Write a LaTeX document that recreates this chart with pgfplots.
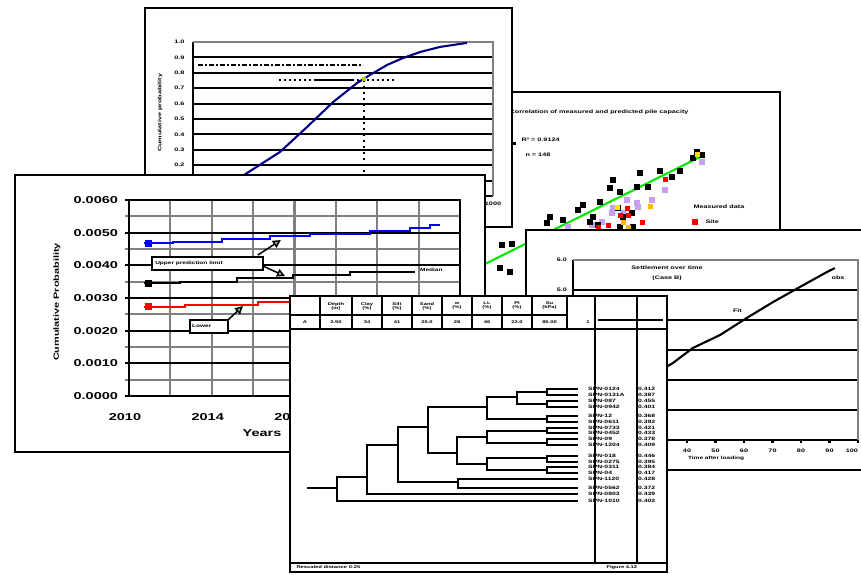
\documentclass[border=0pt]{standalone}
\usepackage{fontspec}
\setmainfont{Liberation Sans}
\newfontfamily\pix[FakeStretch=1.45]{Liberation Sans}
\usepackage{pgfplots}
\pgfplotsset{compat=1.18}
\usetikzlibrary{arrows.meta}
\definecolor{navy}{RGB}{0,0,128}
\definecolor{gg}{RGB}{128,128,128}
\definecolor{lav}{RGB}{200,160,240}
\definecolor{yel}{RGB}{255,230,0}
\definecolor{org}{RGB}{255,185,0}
\definecolor{grn}{RGB}{0,230,0}
\definecolor{blu}{RGB}{0,0,255}
\definecolor{rd}{RGB}{255,0,0}
\definecolor{oliv}{RGB}{170,210,0}
\newcommand{\pagebox}[4]{\filldraw[fill=white,draw=black,line width=2.1pt] (#1pt,-#2pt) rectangle (#3pt,-#4pt);}
\newcommand{\fs}[1]{\pix\bfseries\fontsize{#1}{#1}\selectfont}
\tikzset{lw/.style={line width=2.1pt}}
\newcommand{\leaf}[3]{\node[anchor=west,font=\fs{4.7},inner sep=0pt] at (axis cs:588,#1) {#2};\node[anchor=west,font=\fs{4.7},inner sep=0pt] at (axis cs:638,#1) {#3};}
\begin{document}
\begin{tikzpicture}
\path[use as bounding box] (0,0) rectangle (861pt,-574pt);
\fill[white] (0,0) rectangle (861pt,-574pt);
\begin{scope}
\clip (0,0) rectangle (861pt,-574pt);

% ---------------- scatter page (back)
\pagebox{420}{92}{780}{330}
\begin{axis}[at={(440pt,-300pt)},anchor=south west,scale only axis,width=340pt,height=208pt,
  xmin=0,xmax=340,ymin=0,ymax=208,hide axis,clip=false]
\addplot[grn,lw] coordinates {(20,23.6)(262,144)};
\addplot[only marks,mark=square*,mark size=2.4pt,lav] coordinates {(187,100)(197,97)(198,93)(212,100)(173,92)(172,87)(183,87)(225,110)(262,138)(152,75)(128,73)(162,78)};
\addplot[only marks,mark=square*,mark size=2.4pt,black] coordinates {(173,120)(170,112)(180,108)(200,127)(220,129)(240,129)(232,123)(208,113)(197,113)(138,90)(143,95)(160,98)(110,83)(107,77)(123,80)(153,83)(150,78)(158,75)(178,92)(183,83)(192,87)(193,73)(180,73)(257,148)(262,145)(253,142)(62,55)(72,56)(60,32)(70,28)};
\addplot[only marks,mark=square*,mark size=2pt,rd] coordinates {(225,121)(202,78)(168,75)(158,73)(180,85)(187,92)(188,85)};
\addplot[only marks,mark=square*,mark size=2.2pt,yel] coordinates {(257,146)(177,93)};
\addplot[only marks,mark=square*,mark size=2pt,org] coordinates {(210,94)(183,78)(188,73)};
\addplot[only marks,mark=square*,mark size=1.2pt,black] coordinates {(74,157)};
\node[anchor=east,font=\fs{5}] at (axis cs:252,188) {Correlation of measured and predicted pile capacity};
\node[anchor=west,font=\fs{5}] at (axis cs:78,160) {R² = 0.9124};
\node[anchor=west,font=\fs{5}] at (axis cs:82,145) {n = 148};
\node[anchor=west,font=\fs{5}] at (axis cs:250,93) {Measured data};
\addplot[only marks,mark=square*,mark size=2.5pt,rd] coordinates {(255,78)};
\node[anchor=west,font=\fs{5}] at (axis cs:262,78) {Site};
\end{axis}

% ---------------- top page
\pagebox{145}{8}{512}{227}
\begin{axis}[at={(193pt,-196pt)},anchor=south west,scale only axis,width=300pt,height=154pt,
 xmin=0,xmax=10,ymin=0,ymax=10,clip=false,
 axis line style={draw=none},
 xtick={0,...,10}, ytick={0,...,10},
 ymajorgrids, major grid style={black,lw},
 tick style={draw=none},
 xticklabels={0,100,200,300,400,500,600,700,800,900,1000},
 yticklabels={0.0,0.1,0.2,0.3,0.4,0.5,0.6,0.7,0.8,0.9,1.0},
 tick label style={font=\fs{5}},
 yticklabel style={xshift=-5pt},
 xticklabel style={yshift=-2pt}]
\draw[black,lw] (axis cs:0,10)--(axis cs:0,0)--(axis cs:10,0);
\draw[gg,lw] (axis cs:0,10)--(axis cs:10,10)--(axis cs:10,0);
\addplot[black,lw,dash pattern=on 5pt off 2pt on 2pt off 2pt] coordinates {(0.17,8.51)(5.67,8.51)};
\addplot[black,lw,dash pattern=on 2pt off 3pt] coordinates {(2.87,7.53)(4.07,7.53)};
\addplot[black,lw] coordinates {(4.07,7.53)(5.3,7.53)};
\addplot[black,lw,dash pattern=on 2pt off 3pt] coordinates {(5.3,7.53)(6.73,7.53)};
\addplot[black,lw,dash pattern=on 2pt off 4pt] coordinates {(5.7,7.53)(5.7,0)};
\addplot[navy,lw] coordinates {(0.9,0.3)(1.8,1.49)(2.9,2.86)(3.8,4.48)(4.67,6.10)(5.47,7.34)(5.9,7.86)(6.47,8.51)(7.0,8.96)(7.57,9.35)(8.23,9.68)(9.13,9.94)};
\addplot[only marks,mark=square*,mark size=1.5pt,oliv] coordinates {(5.7,7.6)};
\node[font=\fs{5},xshift=-33pt,rotate=90] at (axis cs:0,5.4) {Cumulative probability};
\end{axis}

% ---------------- left page
\pagebox{15}{175}{485}{452}
\begin{axis}[at={(129pt,-396pt)},anchor=south west,scale only axis,width=331pt,height=196pt,
 xmin=2010,xmax=2026,ymin=0,ymax=0.006,clip=false,
 scaled y ticks=false, scaled x ticks=false,
 axis line style={black,lw},
 xtick={2010,2014,2018,2022,2026}, minor xtick={2010,2012,2014,2016,2018,2020,2022,2024,2026},
 ytick={0,0.001,0.002,0.003,0.004,0.005,0.006},
 minor ytick={0.0005,0.0015,0.0025,0.0035,0.0045,0.0055},
 xmajorgrids=false,xminorgrids=true,ymajorgrids=true,yminorgrids=true,
 major grid style={black,lw}, minor grid style={gg,lw},
 xtick pos=left, ytick pos=left,
 tick align=outside,
 major x tick style={draw=none}, minor x tick style={draw=none},
 major y tick style={black,lw}, minor y tick style={gg,lw},
 major tick length=4pt, minor tick length=4pt,
 xticklabels={2010,2014,2018,2022,2026},
 yticklabels={0.0000,0.0010,0.0020,0.0030,0.0040,0.0050,0.0060},
 tick label style={font=\fs{10}},
 xticklabel style={xshift=-4pt,yshift=-10pt},
 yticklabel style={xshift=-3.5pt}]
\addplot[const plot,blu,lw] coordinates {(2010.72,0.004683)(2012.13,0.004714)(2014.49,0.004806)(2016.81,0.004898)(2018.74,0.004959)(2021.64,0.005051)(2023.57,0.005143)(2024.54,0.005234)(2025.02,0.005234)};
\addplot[const plot,black,lw] coordinates {(2010.72,0.003459)(2012.46,0.003490)(2015.22,0.003612)(2017.92,0.003704)(2020.68,0.003796)(2023.82,0.003796)};
\addplot[const plot,rd,lw] coordinates {(2010.72,0.002724)(2012.71,0.002786)(2016.23,0.002877)(2018.26,0.002877)(2021,0.002939)(2024,0.002939)};
\addplot[only marks,mark=square*,mark size=3pt,blu] coordinates {(2010.94,0.004683)};
\addplot[only marks,mark=square*,mark size=3pt,black] coordinates {(2010.92,0.003459)};
\addplot[only marks,mark=square*,mark size=3pt,rd] coordinates {(2010.92,0.002755)};
\node[font=\fs{4.5},anchor=west] at (axis cs:2023.9,0.003857) {Median};
\node[draw=black,lw,fill=white,minimum width=111pt,minimum height=13pt,inner sep=0pt] at (axis cs:2013.79,0.004056) {};
\node[font=\fs{4.5},anchor=west,inner sep=0pt] at (axis cs:2011.26,0.004056) {Upper prediction limit};
\node[draw=black,lw,fill=white,minimum width=38pt,minimum height=13pt,inner sep=0pt] at (axis cs:2013.86,0.002127) {};
\node[font=\fs{4.5},anchor=west,inner sep=0pt] at (axis cs:2013.04,0.002158) {Lower};
\draw[line width=1.5pt,-{Triangle[length=8pt,width=8pt,fill=gg!60]}] (axis cs:2016.23,0.004316) -- (axis cs:2017.34,0.004775);
\draw[line width=1.5pt,-{Triangle[length=8pt,width=8pt,fill=gg!60]}] (axis cs:2016.47,0.003980) -- (axis cs:2017.54,0.003673);
\draw[line width=1.5pt,-{Triangle[length=8pt,width=8pt,fill=gg!60]}] (axis cs:2014.78,0.002326) -- (axis cs:2015.51,0.002755);
\node[font=\fs{10},yshift=-37pt] at (axis cs:2016.43,0) {Years};
\node[font=\fs{7.5},xshift=-72pt,rotate=90] at (axis cs:2010,0.002877) {Cumulative Probability};
\end{axis}

% ---------------- right page
\pagebox{526}{230}{880}{470}
\begin{axis}[at={(573pt,-440pt)},anchor=south west,scale only axis,width=285pt,height=180pt,
 xmin=0,xmax=10,ymin=0,ymax=6,clip=false,
 axis line style={draw=none},
 xtick={0,...,10}, ytick={0,...,6},
 ymajorgrids, major grid style={black,lw},
 tick align=outside, major tick length=2.5pt,
 major x tick style={black,lw}, major y tick style={draw=none},
 xtick pos=left, ytick pos=left,
 xticklabels={0,10,20,30,40,50,60,70,80,90,\llap{100}},
 yticklabels={0.0,1.0,2.0,3.0,4.0,5.0,6.0},
 tick label style={font=\fs{5}},
 xticklabel style={yshift=-3pt}]
\draw[black,lw] (axis cs:0,6)--(axis cs:0,0)--(axis cs:10,0);
\draw[gg,lw] (axis cs:0,6)--(axis cs:10,6)--(axis cs:10,0);
\addplot[black,lw] coordinates {(0,0.6)(3.51,2.57)(4.21,3.07)(5.16,3.5)(6.1,4.07)(7.02,4.6)(7.96,5.1)(8.91,5.6)(9.19,5.73)};
\node[font=\fs{5}] at (axis cs:3.3,5.73) {Settlement over time};
\node[font=\fs{5}] at (axis cs:3.3,5.4) {(Case B)};
\node[font=\fs{5}] at (axis cs:5.77,4.3) {Fit};
\node[font=\fs{5}] at (axis cs:9.3,5.4) {obs};
\node[font=\fs{4.5},yshift=-18pt] at (axis cs:5.02,0) {Time after loading};
\end{axis}

% ---------------- dendrogram page (front)
\pagebox{290}{296}{667}{572}
\begin{axis}[at={(290pt,-572pt)},anchor=south west,scale only axis,width=377pt,height=276pt,
 xmin=290,xmax=667,ymin=296,ymax=572,y dir=reverse,hide axis,clip=false]
\draw[lw] (axis cs:290,315)--(axis cs:567,315);
\draw[lw] (axis cs:290,329)--(axis cs:667,329);
\pgfplotsinvokeforeach{320,352,382,412,442,472,502,532,567}{\draw[lw] (axis cs:#1,296)--(axis cs:#1,329);}
\draw[lw] (axis cs:595,296)--(axis cs:595,563);
\draw[lw] (axis cs:637,296)--(axis cs:637,563);
\draw[lw] (axis cs:290,563)--(axis cs:667,563);
\draw[lw] (axis cs:598,320)--(axis cs:663,320);
% header text
\node[font=\fs{4},align=center,inner sep=0pt] at (axis cs:336,306) {Depth\\(m)};
\node[font=\fs{4},align=center,inner sep=0pt] at (axis cs:367,306) {Clay\\(\%)};
\node[font=\fs{4},align=center,inner sep=0pt] at (axis cs:397,306) {Silt\\(\%)};
\node[font=\fs{4},align=center,inner sep=0pt] at (axis cs:427,306) {Sand\\(\%)};
\node[font=\fs{4},align=center,inner sep=0pt] at (axis cs:457,306) {w\\(\%)};
\node[font=\fs{4},align=center,inner sep=0pt] at (axis cs:487,306) {LL\\(\%)};
\node[font=\fs{4},align=center,inner sep=0pt] at (axis cs:517,306) {PI\\(\%)};
\node[font=\fs{4},align=center,inner sep=0pt] at (axis cs:549.5,306) {Su\\(kPa)};
\node[font=\fs{4}] at (axis cs:305,322) {A};
\node[font=\fs{4}] at (axis cs:336,322) {2.50};
\node[font=\fs{4}] at (axis cs:367,322) {34};
\node[font=\fs{4}] at (axis cs:397,322) {41};
\node[font=\fs{4}] at (axis cs:427,322) {25.0};
\node[font=\fs{4}] at (axis cs:457,322) {28};
\node[font=\fs{4}] at (axis cs:487,322) {46};
\node[font=\fs{4}] at (axis cs:517,322) {22.0};
\node[font=\fs{4}] at (axis cs:549.5,322) {85.00};
\node[font=\fs{4}] at (axis cs:588,322) {1};
% dendrogram
\addplot[black,lw] coordinates {(306.7,488.3)(336.7,488.3)};
\addplot[black,lw] coordinates {(366.7,476.7)(336.7,476.7)(336.7,500.7)(578,500.7)};
\addplot[black,lw] coordinates {(397.7,445)(366.7,445)(366.7,494)(578,494)};
\addplot[black,lw] coordinates {(427.7,427.3)(397.7,427.3)(397.7,482.3)(457.7,482.3)};
\addplot[black,lw] coordinates {(578,479.3)(457.7,479.3)(457.7,488.3)(578,488.3)};
\addplot[black,lw] coordinates {(486.7,406.7)(427.7,406.7)(427.7,452.7)(456.7,452.7)};
\addplot[black,lw] coordinates {(516.7,397.3)(486.7,397.3)(486.7,419.3)(546.7,419.3)};
\addplot[black,lw] coordinates {(546.7,391.7)(516.7,391.7)(516.7,404)(546.7,404)};
\addplot[black,lw] coordinates {(578,389)(546.7,389)(546.7,395)(578,395)};
\addplot[black,lw] coordinates {(578,401)(546.7,401)(546.7,407.3)(578,407.3)};
\addplot[black,lw] coordinates {(578,416)(546.7,416)(546.7,421.7)(578,421.7)};
\addplot[black,lw] coordinates {(486.7,436.7)(456.7,436.7)(456.7,464)(486.7,464)};
\addplot[black,lw] coordinates {(546.7,430.7)(486.7,430.7)(486.7,442.7)(546.7,442.7)};
\addplot[black,lw] coordinates {(578,427.7)(546.7,427.7)(546.7,433.3)(578,433.3)};
\addplot[black,lw] coordinates {(578,439.3)(546.7,439.3)(546.7,445.3)(578,445.3)};
\addplot[black,lw] coordinates {(546.7,458.3)(486.7,458.3)(486.7,470)(546.7,470)};
\addplot[black,lw] coordinates {(578,455.7)(546.7,455.7)(546.7,461.7)(578,461.7)};
\addplot[black,lw] coordinates {(578,466.7)(546.7,466.7)(546.7,473.3)(578,473.3)};
% leaf labels
\leaf{389}{SPN-0124}{0.412}
\leaf{395}{SPN-0131A}{0.387}
\leaf{401}{SPN-087}{0.455}
\leaf{407.3}{SPN-0942}{0.401}
\leaf{416}{SPN-12}{0.368}
\leaf{421.7}{SPN-0611}{0.392}
\leaf{427.7}{SPN-0733}{0.421}
\leaf{433.3}{SPN-0452}{0.433}
\leaf{439.3}{SPN-09}{0.378}
\leaf{445.3}{SPN-1204}{0.409}
\leaf{455.7}{SPN-018}{0.446}
\leaf{461.7}{SPN-0275}{0.395}
\leaf{466.7}{SPN-0311}{0.384}
\leaf{473.3}{SPN-04}{0.417}
\leaf{479.3}{SPN-1120}{0.428}
\leaf{488.3}{SPN-0562}{0.372}
\leaf{494}{SPN-0803}{0.439}
\leaf{500.7}{SPN-1010}{0.402}
\node[anchor=west,font=\fs{4}] at (axis cs:293,567.5) {Rescaled distance 0-25};
\node[anchor=west,font=\fs{4}] at (axis cs:603,567.5) {Figure 4.12};
\end{axis}
\end{scope}
\end{tikzpicture}
\end{document}
